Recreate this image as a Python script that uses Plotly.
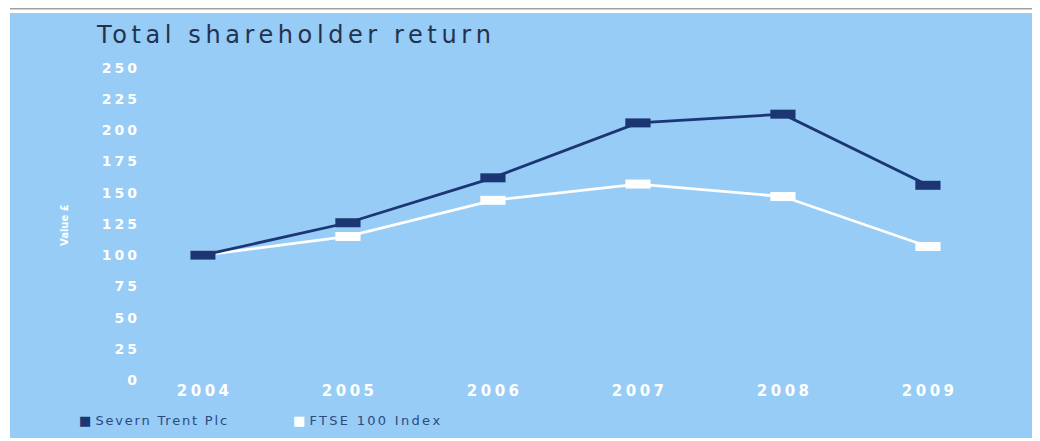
import plotly.graph_objects as go

years = [2004, 2005, 2006, 2007, 2008, 2009]
severn = [100, 126, 162, 206, 213, 156]
ftse = [100, 115, 144, 157, 147, 107]
y_ticks = [0, 25, 50, 75, 100, 125, 150, 175, 200, 225, 250]

NAVY = "#1b3673"
PANEL = "#96ccf5"
OFF = 8  # page body margin
W, H = 1040 - OFF, 441 - OFF
L, R, T, B = 140 - OFF, 40, 60 - OFF, 61
pw, ph = W - L - R, H - T - B

def px_x(x):
    return (x - OFF - L) / pw

def px_y(y):
    return (H - B - (y - OFF)) / ph

def spaced(s, ls):
    return "<span style='letter-spacing:%spx'>%s</span>" % (ls, s)

def spaced_inner(s, ls):
    # spacing only between characters, none after the last one
    return spaced(s[:-1], ls) + s[-1]

fig = go.Figure()
fig.add_trace(go.Scatter(x=years, y=ftse, name="FTSE 100 Index", mode="lines+markers",
                         line=dict(color="white", width=2.8),
                         marker=dict(symbol="line-ew", size=18, color="white",
                                     line=dict(color="white", width=9))))
fig.add_trace(go.Scatter(x=years, y=severn, name="Severn Trent Plc", mode="lines+markers",
                         line=dict(color=NAVY, width=2.8),
                         marker=dict(symbol="line-ew", size=18, color=NAVY,
                                     line=dict(color=NAVY, width=9))))

shapes = [
    dict(type="line", xref="paper", yref="paper", x0=px_x(10), x1=px_x(1040), y0=px_y(8.7), y1=px_y(8.7),
         line=dict(color="#a0a0a0", width=1.5), layer="below"),
    dict(type="rect", xref="paper", yref="paper", x0=px_x(10), x1=px_x(1041), y0=px_y(438), y1=px_y(13),
         fillcolor=PANEL, line=dict(width=0), layer="below"),
]

annotations = [
    dict(text=spaced_inner("Total shareholder return", 4.6), xref="paper", yref="paper", x=px_x(94), y=px_y(35),
         xanchor="left", yanchor="middle", showarrow=False,
         font=dict(family="DejaVu Sans", size=24, color="#24324f")),
    dict(text="<b>Value £</b>", xref="paper", yref="paper", x=px_x(64), y=px_y(225),
         xanchor="center", yanchor="middle", showarrow=False, textangle=-90,
         font=dict(family="DejaVu Sans", size=10, color="white")),
    dict(text="<span style='color:%s'>■</span> " % NAVY + spaced_inner("Severn Trent Plc", 1.8), xref="paper", yref="paper",
         x=px_x(77), y=px_y(420), xanchor="left", yanchor="middle", showarrow=False,
         font=dict(family="DejaVu Sans", size=13, color="#2c4a80")),
    dict(text="<span style='color:white'>■</span> " + spaced_inner("FTSE 100 Index", 2.3), xref="paper", yref="paper",
         x=px_x(291), y=px_y(420), xanchor="left", yanchor="middle", showarrow=False,
         font=dict(family="DejaVu Sans", size=13, color="#2c4a80")),
]

fig.update_layout(
    width=W, height=H,
    margin=dict(l=L, r=R, t=T, b=B),
    paper_bgcolor="white", plot_bgcolor="rgba(0,0,0,0)",
    showlegend=False,
    shapes=shapes, annotations=annotations,
    xaxis=dict(range=[2003.566, 2009.497], tickvals=years, ticktext=[spaced_inner(str(y), 3.5) for y in years],
               showgrid=False, zeroline=False, showline=False, ticks="",
               tickfont=dict(family="DejaVu Sans", size=15, color="white", weight="bold")),
    yaxis=dict(range=[0, 256.4], tickvals=y_ticks, ticktext=[spaced_inner(str(v), 3) for v in y_ticks],
               showgrid=False, zeroline=False, showline=False,
               ticks="", ticklabelstandoff=2,
               tickfont=dict(family="DejaVu Sans", size=14, color="white", weight="bold")),
)

fig.write_html("out.html")
